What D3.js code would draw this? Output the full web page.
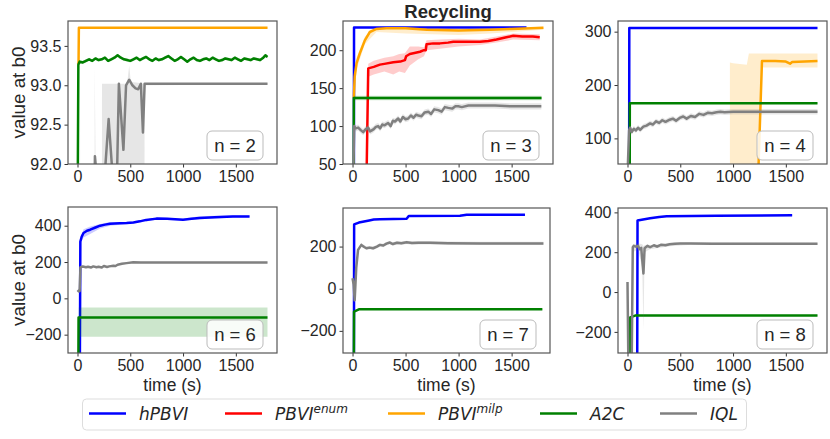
<!DOCTYPE html>
<html>
<head>
<meta charset="utf-8">
<script src="https://cdn.jsdelivr.net/npm/d3@7"></script>
<style>
  body { margin: 0; background: #fff; }
  text { font-family: "Liberation Sans", Arial, sans-serif; fill: #262626; }
</style>
</head>
<body>
<svg id="chart" width="830" height="439"></svg>
<script>
// ---- series names / legend ----
var seriesKeys = ["hpbvi", "enum", "milp", "a2c", "iql"];
var seriesLabels = [["hPBVI", ""], ["PBVI", "enum"], ["PBVI", "milp"], ["A2C", ""], ["IQL", ""]];
var seriesColors = ["#0000ff", "#ff0000", "#ffa500", "#008000", "#808080"];
var xTicks = [0, 500, 1000, 1500];

// ---- n = 2 ----
var n2_milp = [[0, 93.27], [10, 93.28], [13, 93.73], [1800, 93.73]];
var n2_a2c = [[0, 91.0], [8, 93.26], [20, 93.30], [50, 93.29], [80, 93.31], [110, 93.33], [140, 93.31],
  [170, 93.34], [200, 93.32], [230, 93.33], [260, 93.35], [290, 93.31], [320, 93.33], [350, 93.35],
  [380, 93.38], [410, 93.35], [440, 93.33], [470, 93.32], [500, 93.31], [530, 93.33], [560, 93.35],
  [590, 93.32], [620, 93.34], [650, 93.36], [680, 93.33], [710, 93.31], [740, 93.34], [770, 93.32],
  [800, 93.33], [830, 93.35], [860, 93.37], [890, 93.34], [920, 93.31], [950, 93.33], [980, 93.36],
  [1010, 93.33], [1040, 93.30], [1070, 93.33], [1100, 93.35], [1130, 93.32], [1160, 93.31],
  [1190, 93.33], [1220, 93.34], [1250, 93.32], [1280, 93.35], [1310, 93.33], [1340, 93.31],
  [1370, 93.32], [1400, 93.34], [1430, 93.33], [1460, 93.32], [1490, 93.35], [1520, 93.33],
  [1550, 93.31], [1580, 93.34], [1610, 93.33], [1640, 93.32], [1670, 93.34], [1700, 93.33],
  [1730, 93.32], [1760, 93.35], [1780, 93.38], [1800, 93.36]];
var n2_iql = [[0, 90], [150, 90], [165, 92.1], [178, 91.9], [260, 91.9], [295, 92.57], [330, 91.9],
  [375, 91.9], [392, 93.02], [435, 92.18], [460, 93.0], [490, 93.07], [520, 93.0], [550, 92.96],
  [575, 92.95], [600, 93.02], [620, 92.4], [636, 93.02], [1800, 93.02]];
var n2_iql_band = [[0, 80, 80], [18, 80, 80], [25, 80, 92.75], [32, 80, 80], [155, 80, 80],
  [163, 80, 93.25], [170, 80, 92.2], [180, 80, 80], [228, 80, 80], [232, 80, 93.02], [470, 80, 93.02],
  [490, 80, 93.25], [505, 80, 93.04], [600, 80, 93.03], [622, 80, 93.02], [636, 93.0, 93.03],
  [1800, 93.01, 93.03]];

// ---- n = 3 ----
var n3_hpbvi = [[0, -100], [12, -100], [14, 230], [1640, 230]];
var n3_enum = [[120, -100], [135, 60], [148, 176], [200, 178], [258, 181], [300, 182], [384, 184],
  [450, 185], [494, 187], [505, 192], [540, 195], [573, 196], [636, 198], [673, 200], [690, 200],
  [698, 208], [760, 209], [824, 209], [900, 210], [950, 211], [1075, 211], [1200, 211], [1280, 212],
  [1357, 214], [1450, 217], [1515, 219], [1600, 218], [1700, 218], [1765, 217]];
var n3_enum_band = [[120, -100, -90], [140, 40, 100], [148, 165, 182], [200, 168, 186], [300, 172, 190],
  [384, 168, 192], [440, 172, 195], [494, 170, 196], [540, 180, 205], [620, 188, 205], [673, 192, 204],
  [698, 200, 213], [824, 202, 214], [1000, 205, 215], [1200, 207, 214], [1357, 210, 218],
  [1515, 214, 222], [1765, 213, 221]];
var n3_milp = [[12, 137], [20, 165], [38, 183], [69, 196], [116, 213], [163, 224], [226, 228],
  [320, 229], [500, 229], [700, 227], [1000, 226], [1300, 227], [1500, 228], [1800, 229.5]];
var n3_milp_band = [[12, 130, 140], [38, 175, 190], [116, 208, 218], [226, 224, 230], [500, 222, 230],
  [1000, 220, 229], [1300, 222, 229], [1800, 227, 231]];
var n3_a2c = [[0, -100], [10, -100], [12, 137], [1782, 137]];
var n3_iql = [[0, -50], [10, 60], [16, 100], [30, 97], [53, 98], [75, 95], [100, 92], [125, 96],
  [147, 98], [165, 93], [178, 94], [200, 96], [220, 99], [241, 100], [260, 97], [280, 102], [300, 101],
  [335, 104], [360, 100], [380, 107], [400, 106], [430, 110], [450, 106], [475, 112], [500, 109],
  [525, 110], [550, 114], [575, 111], [600, 115], [620, 114], [650, 113], [680, 118], [714, 119],
  [740, 116], [770, 122], [808, 121], [840, 119], [870, 125], [903, 124], [940, 123], [970, 126],
  [997, 126], [1030, 125], [1092, 127], [1186, 127], [1343, 127], [1500, 126], [1780, 126]];

// ---- n = 4 ----
var n4_hpbvi = [[0, -100], [15, -100], [17, 307], [1800, 307]];
var n4_milp = [[970, -100], [1240, 40], [1274, 245], [1400, 245], [1500, 244], [1540, 240],
  [1560, 243], [1800, 245]];
var n4_milp_band = [[970, -100, 242], [1000, -100, 241], [1130, -100, 238], [1150, -100, 259],
  [1240, -100, 259], [1270, 233, 259], [1800, 233, 259]];
var n4_a2c = [[0, -100], [20, -100], [22, 166], [1800, 166]];
var n4_iql = [[0, 30], [15, 115], [25, 120], [40, 112], [60, 118], [80, 115], [100, 120], [120, 116],
  [150, 122], [180, 124], [214, 128], [240, 126], [270, 132], [300, 129], [330, 134], [360, 131],
  [400, 135], [430, 137], [460, 133], [500, 139], [528, 141], [560, 137], [600, 142], [640, 140],
  [680, 146], [720, 144], [760, 148], [800, 147], [843, 149], [880, 150], [920, 149], [1000, 150],
  [1800, 150]];

// ---- n = 6 ----
var n6_hpbvi = [[0, -400], [22, -400], [27, 313], [40, 340], [57, 360], [90, 372], [120, 378],
  [170, 390], [214, 400], [260, 406], [308, 411], [400, 413], [465, 415], [530, 418], [590, 424],
  [650, 432], [748, 439], [850, 438], [1000, 433], [1080, 438], [1157, 442], [1300, 447],
  [1472, 451], [1630, 451]];
var n6_hpbvi_band = [[27, 300, 330], [57, 335, 380], [120, 355, 395], [214, 385, 410], [308, 400, 420],
  [465, 408, 420], [590, 418, 430], [748, 433, 445], [1000, 428, 440], [1157, 435, 452],
  [1300, 440, 455], [1472, 445, 458], [1630, 446, 456]];
var n6_a2c = [[0, -400], [8, -400], [10, -105], [1800, -105]];
var n6_a2c_band = [[12, -212, -50], [1800, -212, -50]];
var n6_iql = [[0, 45], [12, 38], [20, 40], [28, 172], [50, 175], [80, 171], [100, 174], [130, 170],
  [150, 176], [180, 171], [200, 174], [230, 170], [250, 178], [280, 173], [300, 176], [340, 180],
  [360, 178], [380, 185], [420, 190], [465, 194], [528, 199], [600, 197], [800, 197], [1000, 197],
  [1800, 197]];

// ---- n = 7 ----
var n7_hpbvi = [[0, -400], [13, -400], [15, 305], [60, 314], [157, 324], [200, 328], [258, 330],
  [510, 332], [530, 345], [1013, 346], [1076, 351], [1626, 351]];
var n7_a2c = [[0, -400], [12, -400], [14, -109], [60, -98], [1790, -98]];
var n7_iql = [[0, 50], [10, 20], [20, -55], [35, 100], [52, 184], [83, 208], [110, 198], [131, 192],
  [160, 195], [194, 192], [230, 200], [258, 208], [290, 205], [320, 214], [352, 219], [380, 212],
  [420, 218], [460, 216], [510, 220], [560, 217], [620, 218], [730, 218], [900, 216], [1202, 215],
  [1800, 215]];

// ---- n = 8 ----
var n8_hpbvi = [[0, -400], [92, -400], [95, 359], [214, 371], [300, 377], [371, 380], [843, 383],
  [1560, 385]];
var n8_a2c = [[0, -400], [22, -400], [25, -127], [72, -118], [1800, -118]];
var n8_iql = [[0, 50], [8, -350], [40, -350], [50, 225], [60, 232], [80, 228], [100, 232], [115, 215],
  [130, 222], [140, 160], [151, 93], [162, 220], [190, 232], [214, 225], [250, 235], [280, 228],
  [320, 238], [360, 235], [400, 240], [450, 243], [500, 244], [600, 244], [800, 243], [1800, 243]];
var n8_iql_band = [[0, 45, 55], [8, -400, -300], [40, -400, -300], [50, 200, 240], [100, 215, 245],
  [140, 120, 240], [151, -190, 230], [162, 200, 235], [214, 215, 235], [400, 230, 248],
  [600, 238, 250], [1800, 238, 248]];

// ---- panel table built from the arrays above ----
var panels = [
  { label: "n = 2", box: [68, 277, 21, 164], xMax: 1890, yDomain: [92, 93.816],
    yTicks: [92, 92.5, 93, 93.5], yFmt: ".1f",
    series: { milp: { line: n2_milp, spread: 0.01 }, a2c: { line: n2_a2c, spread: 0.02 },
              iql: { line: n2_iql, band: n2_iql_band } } },
  { label: "n = 3", box: [343, 553, 21, 164], xMax: 1890, yDomain: [50, 238.5],
    yTicks: [50, 100, 150, 200], yFmt: "d",
    series: { hpbvi: { line: n3_hpbvi }, enum: { line: n3_enum, band: n3_enum_band },
              milp: { line: n3_milp, band: n3_milp_band }, a2c: { line: n3_a2c, spread: 3 },
              iql: { line: n3_iql, spread: 4 } } },
  { label: "n = 4", box: [618, 827, 21, 164], xMax: 1890, yDomain: [52, 320],
    yTicks: [100, 200, 300], yFmt: "d",
    series: { hpbvi: { line: n4_hpbvi }, milp: { line: n4_milp, band: n4_milp_band },
              a2c: { line: n4_a2c, spread: 1 }, iql: { line: n4_iql, spread: 5 } } },
  { label: "n = 6", box: [68, 277, 207, 353], xMax: 1890, yDomain: [-301, 503],
    yTicks: [-200, 0, 200, 400], yFmt: "d",
    series: { hpbvi: { line: n6_hpbvi, band: n6_hpbvi_band }, a2c: { line: n6_a2c, band: n6_a2c_band },
              iql: { line: n6_iql, spread: 4 } } },
  { label: "n = 7", box: [343, 550, 208, 353], xMax: 1862, yDomain: [-305, 383],
    yTicks: [-200, 0, 200], yFmt: "d",
    series: { hpbvi: { line: n7_hpbvi, spread: 2 }, a2c: { line: n7_a2c, spread: 2 },
              iql: { line: n7_iql, spread: 8 } } },
  { label: "n = 8", box: [618, 827, 208, 353], xMax: 1890, yDomain: [-306, 422],
    yTicks: [-200, 0, 200, 400], yFmt: "d",
    series: { hpbvi: { line: n8_hpbvi, spread: 2 }, a2c: { line: n8_a2c, spread: 2 },
              iql: { line: n8_iql, band: n8_iql_band } } }
];

var svg = d3.select("#chart");
var minus = function (s) { return s.replace("-", "\u2212"); };

panels.forEach(function (p, pi) {
  var x0 = p.box[0], x1 = p.box[1], y0 = p.box[2], y1 = p.box[3];
  var x = d3.scaleLinear().domain([-90, p.xMax]).range([x0, x1]);
  var y = d3.scaleLinear().domain(p.yDomain).range([y1, y0]);

  svg.append("clipPath").attr("id", "clip" + pi)
    .append("rect").attr("x", x0).attr("y", y0).attr("width", x1 - x0).attr("height", y1 - y0);

  var plot = svg.append("g").attr("clip-path", "url(#clip" + pi + ")");

  var line = d3.line().x(function (d) { return x(d[0]); }).y(function (d) { return y(d[1]); });
  var area = d3.area().x(function (d) { return x(d[0]); })
    .y0(function (d) { return y(d[1]); }).y1(function (d) { return y(d[2]); });

  seriesKeys.forEach(function (k, si) {
    var s = p.series[k];
    if (!s) return;
    var band = s.band;
    if (!band && s.spread) {
      band = s.line.map(function (d) { return [d[0], d[1] - s.spread, d[1] + s.spread]; });
    }
    if (band) {
      plot.append("path").attr("d", area(band))
        .attr("fill", seriesColors[si]).attr("fill-opacity", 0.2).attr("stroke", "none");
    }
    plot.append("path").attr("d", line(s.line))
      .attr("fill", "none").attr("stroke", seriesColors[si])
      .attr("stroke-width", 2.5).attr("stroke-linejoin", "round");
  });

  // axes
  var gx = svg.append("g").attr("transform", "translate(0," + y1 + ")")
    .call(d3.axisBottom(x).tickValues(xTicks).tickSize(3.5).tickPadding(3).tickFormat(d3.format("d")));
  var gy = svg.append("g").attr("transform", "translate(" + x0 + ",0)")
    .call(d3.axisLeft(y).tickValues(p.yTicks).tickSize(3.5).tickPadding(3)
      .tickFormat(function (v) { return minus(d3.format(p.yFmt)(v)); }));
  [gx, gy].forEach(function (g) {
    g.select(".domain").remove();
    g.selectAll(".tick line").attr("stroke", "#333").attr("stroke-width", 1);
    g.selectAll(".tick text").attr("fill", "#262626").style("font-size", "16px")
      .style("font-family", "'Liberation Sans', Arial, sans-serif");
  });

  svg.append("rect").attr("x", x0).attr("y", y0).attr("width", x1 - x0).attr("height", y1 - y0)
    .attr("fill", "none").attr("stroke", "#555").attr("stroke-width", 1.2);

  // n label box
  var bw = 56, bh = 29, bx = x1 - 14 - bw, by = y1 - 4 - bh;
  svg.append("rect").attr("x", bx).attr("y", by).attr("width", bw).attr("height", bh)
    .attr("rx", 5).attr("fill", "#fff").attr("fill-opacity", 0.85)
    .attr("stroke", "#bbb").attr("stroke-width", 1);
  svg.append("text").attr("x", bx + bw / 2).attr("y", by + bh / 2 + 6.5)
    .attr("text-anchor", "middle").style("font-size", "18.5px").text(p.label);

  if (pi % 3 === 0) {
    svg.append("text").attr("transform", "translate(25," + ((y0 + y1) / 2) + ") rotate(-90)")
      .attr("text-anchor", "middle").style("font-size", "18.8px").text("value at b0");
  }
  if (pi >= 3) {
    svg.append("text").attr("x", (x0 + x1) / 2).attr("y", 391)
      .attr("text-anchor", "middle").style("font-size", "17.5px").text("time (s)");
  }
  if (pi === 1) {
    svg.append("text").attr("x", (x0 + x1) / 2).attr("y", 17.5)
      .attr("text-anchor", "middle").style("font-size", "18.5px").style("font-weight", "bold")
      .text("Recycling");
  }
});

// legend
var legend = svg.append("g");
legend.append("rect").attr("x", 82.5).attr("y", 399).attr("width", 664).attr("height", 31)
  .attr("rx", 4).attr("fill", "#fff").attr("stroke", "#ddd").attr("stroke-width", 1);
var legX = [89, 225, 388, 540, 660];
seriesKeys.forEach(function (k, i) {
  legend.append("line").attr("x1", legX[i]).attr("x2", legX[i] + 37)
    .attr("y1", 413.5).attr("y2", 413.5)
    .attr("stroke", seriesColors[i]).attr("stroke-width", 2.5);
  var t = legend.append("text").attr("x", legX[i] + 50).attr("y", 420)
    .style("font-family", "'DejaVu Sans', sans-serif").style("font-style", "italic")
    .style("font-size", "17px");
  t.append("tspan").text(seriesLabels[i][0]);
  if (seriesLabels[i][1]) {
    t.append("tspan").attr("dy", -7).style("font-size", "12px").text(seriesLabels[i][1]);
  }
});
</script>
</body>
</html>
